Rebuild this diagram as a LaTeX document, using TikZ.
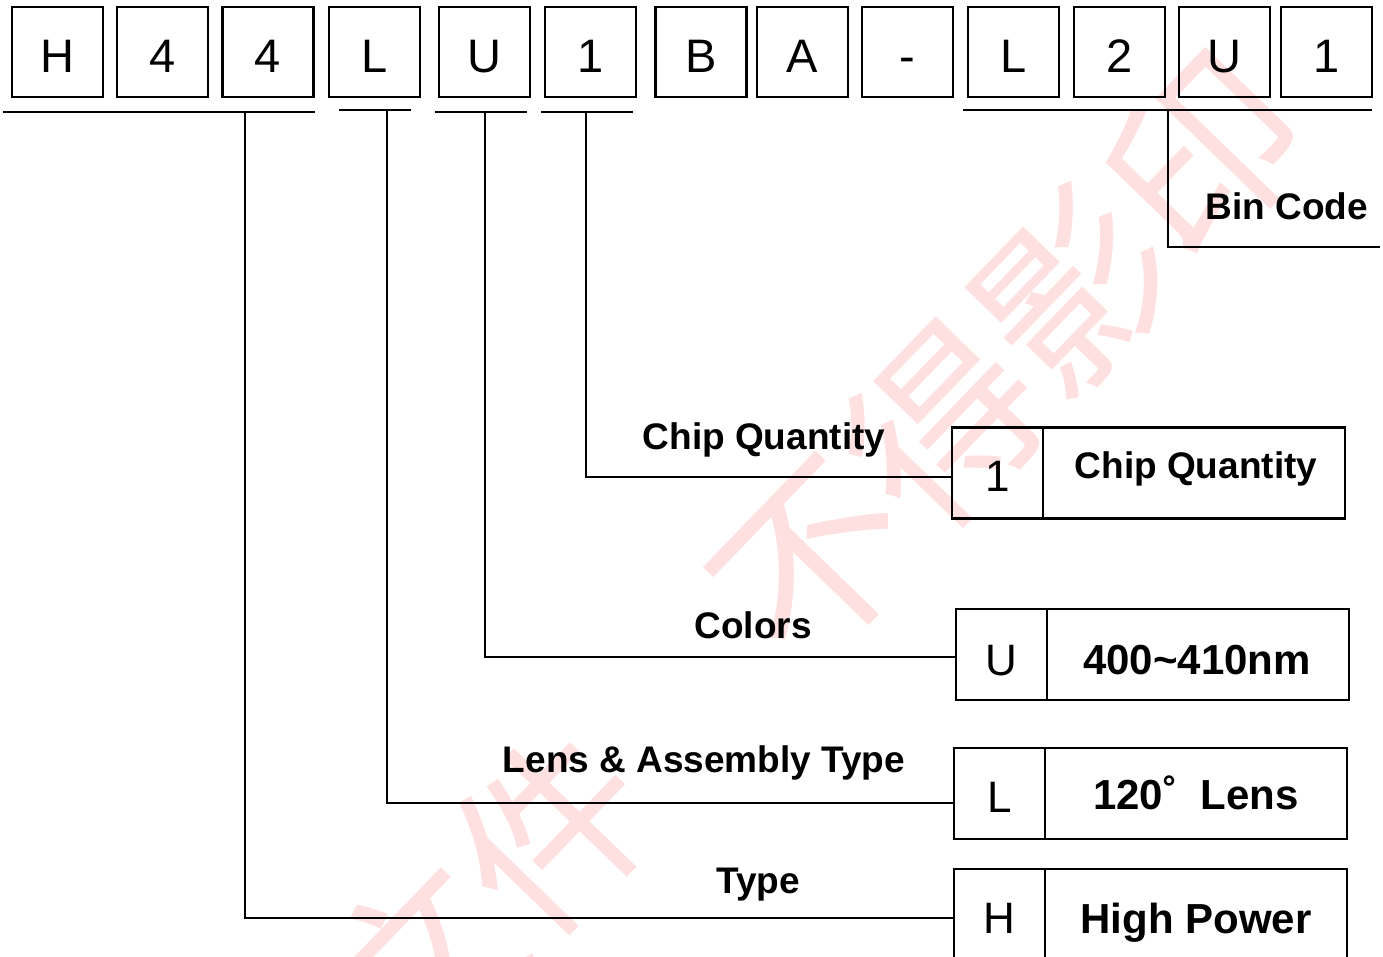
\documentclass[tikz,border=0pt]{standalone}
\usepackage{fontspec}
\setmainfont{Liberation Sans}
\newfontfamily\cjkfont{Noto Sans CJK SC}
\usetikzlibrary{positioning, calc}

\begin{document}
\begin{tikzpicture}[
  x=0.5pt, y=-0.5pt,
  charbox/.style={draw, line width=1.2pt, minimum width=45.5pt, minimum height=45pt, inner sep=0pt, outer sep=0pt},
  keybox/.style={draw, line width=1.2pt, minimum width=45.5pt, minimum height=45.5pt, inner sep=0pt, outer sep=0pt},
  valbox/.style={draw, line width=1.2pt, minimum width=151pt, minimum height=45.5pt, inner sep=0pt, outer sep=0pt},
  chartext/.style={anchor=base, inner sep=0pt, font=\fontsize{23.5}{28}\selectfont},
  keytext/.style={anchor=base, inner sep=0pt, font=\fontsize{22}{26}\selectfont},
  valtext/.style={anchor=base, inner sep=0pt, font=\bfseries\fontsize{21}{25}\selectfont},
  labeltext/.style={anchor=base, inner sep=0pt, font=\bfseries\fontsize{18.5}{22}\selectfont},
  wire/.style={line width=1pt}
]
  \clip (0,0) rectangle (1383,957);

  % watermark
  \node[rotate=46, text=red!12, inner sep=0pt, font=\cjkfont\fontsize{94}{94}\selectfont] (stamp) at (812,560) {文件　不得影印};

  % 1. Part number boxes
  \foreach \x/\t [count=\i] in {57.5/H, 162.5/4, 268/4, 374.5/L, 484.5/U, 590.5/1, 701/B, 802.5/A, 907.5/-, 1013.5/L, 1119.5/2, 1224.5/U, 1326.5/1} {
    \node[charbox] (c\i) at (\x,52) {};
    \node[chartext] (t\i) at (\x,73) {\t};
  }

  % 2. Group underlines
  \draw[wire] ($(c1.south west)+(-9,15)$) -- ($(c3.south east)+(1,15)$);
  \draw[wire] ($(c4.south west)+(10,13)$) -- ($(c4.south east)+(-9,13)$);
  \draw[wire] ($(c5.south west)+(-4,15)$) -- ($(c5.south east)+(-3,15)$);
  \draw[wire] ($(c6.south west)+(-4,15)$) -- ($(c6.south east)+(-3,15)$);
  \draw[wire] ($(c10.south west)+(-5,13)$) -- ($(c13.south east)+(0,13)$);

  % 3. Code tables
  \node[keybox] (k1) at (997.5,473) {};
  \node[valbox, right=0pt of k1] (v1) {};
  \node[keybox] (k2) at (1001.5,654.5) {};
  \node[valbox, right=0pt of k2] (v2) {};
  \node[keybox] (k3) at (999.5,793.5) {};
  \node[valbox, right=0pt of k3] (v3) {};
  \node[keybox] (k4) at (999.5,914.5) {};
  \node[valbox, right=0pt of k4] (v4) {};

  \node[keytext] (q1) at (997.5,492) {1};
  \node[labeltext] (w1) at (1196,479) {Chip Quantity};
  \node[keytext] (q2) at (1001.5,675) {U};
  \node[valtext] (w2) at (1197,674) {400\textasciitilde 410nm};
  \node[keytext] (q3) at (999.5,812) {L};
  \node[valtext] (w3) at (1196,809) {120˚\ \ Lens};
  \node[keytext] (q4) at (999.5,933) {H};
  \node[valtext] (w4) at (1196,933) {High Power};

  % 4. Field labels
  \node[labeltext] (lb1) at (764,450) {Chip Quantity};
  \node[labeltext] (lb2) at (753,638) {Colors};
  \node[labeltext] (lb3) at (704,772) {Lens \& Assembly Type};
  \node[labeltext] (lb4) at (758,893) {Type};
  \node[labeltext] (lb5) at (1287,220) {Bin Code};

  % 5. Leaders from the code to the tables
  \coordinate (d1) at (245,112);
  \coordinate (d2) at (387,110);
  \coordinate (d3) at (485,112);
  \coordinate (d4) at (586,112);
  \coordinate (d5) at (1168,110);
  \coordinate (bc) at (1380,247);
  \draw[wire] (d1) |- ($(k4.west)+(0,3)$);
  \draw[wire] (d2) |- ($(k3.west)+(0,9)$);
  \draw[wire] (d3) |- ($(k2.west)+(0,2.5)$);
  \draw[wire] (d4) |- ($(k1.west)+(0,4)$);
  \draw[wire] (d5) |- (bc);

\end{tikzpicture}
\end{document}
